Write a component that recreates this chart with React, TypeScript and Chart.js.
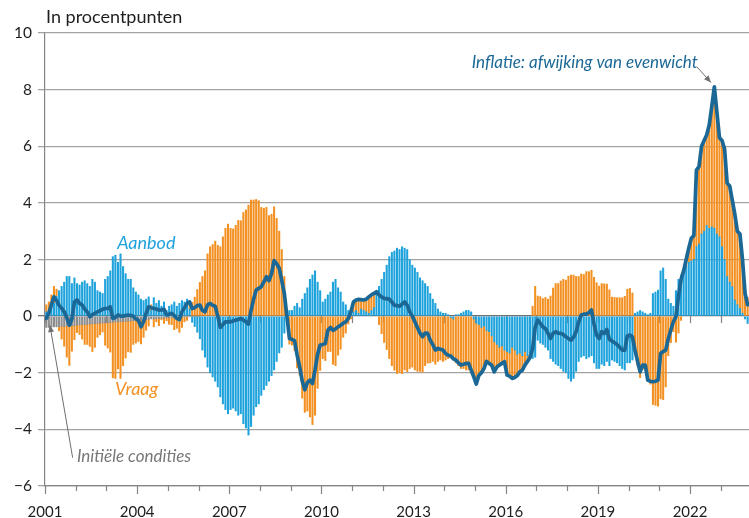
import React, { useEffect, useRef } from 'react';
import { Chart, registerables } from 'chart.js';

Chart.register(...registerables);

// ---- Data (monthly, January 2001 onwards) ----
const startYear = 2001;
const labeledYears = [2001, 2004, 2007, 2010, 2013, 2016, 2019, 2022];
const yTickValues = [-6, -4, -2, 0, 2, 4, 6, 8, 10];

// Inflatie: afwijking van evenwicht (line)
const inflatie = [
  -0.08, 0.1, 0.4, 0.68, 0.55, 0.38, 0.28, 0.15, -0.05, -0.32, -0.1, 0.5, // 2001
  0.57, 0.45, 0.39, 0.25, 0.15, -0.02, 0.05, 0.1, 0.15, 0.19, 0.24, 0.27, // 2002
  0.27, 0.33, -0.08, -0.05, 0.04, 0.0, 0.0, 0.02, 0.04, 0.02, 0.0, -0.1, // 2003
  -0.15, -0.38, -0.2, 0.1, 0.33, 0.3, 0.27, 0.25, 0.21, 0.22, 0.24, 0.04, // 2004
  0.06, 0.1, 0.02, -0.08, -0.12, 0.15, 0.3, 0.45, 0.5, 0.27, 0.3, 0.37, // 2005
  0.39, 0.2, 0.15, 0.4, 0.45, 0.38, 0.35, 0.0, -0.4, -0.3, -0.2, -0.2, // 2006
  -0.2, -0.17, -0.14, -0.12, -0.08, -0.14, -0.2, -0.28, 0.2, 0.6, 0.92, 0.98, // 2007
  1.04, 1.21, 1.39, 1.25, 1.5, 1.96, 1.85, 1.7, 1.25, 0.8, 0.0, -0.79, // 2008
  -0.82, -0.87, -1.38, -1.79, -2.3, -2.6, -2.35, -2.26, -2.38, -1.9, -1.35, -1.02, // 2009
  -1.0, -0.97, -0.5, -0.4, -0.5, -0.45, -0.38, -0.32, -0.25, -0.2, -0.08, 0.15, // 2010
  0.5, 0.57, 0.59, 0.58, 0.57, 0.6, 0.68, 0.75, 0.8, 0.86, 0.75, 0.68, // 2011
  0.62, 0.62, 0.6, 0.5, 0.39, 0.37, 0.35, 0.42, 0.5, 0.39, 0.15, 0.0, // 2012
  -0.2, -0.4, -0.6, -0.73, -0.6, -0.61, -0.85, -1.0, -1.2, -1.14, -1.17, -1.2, // 2013
  -1.32, -1.38, -1.41, -1.5, -1.55, -1.65, -1.73, -1.7, -1.67, -1.67, -1.91, -2.14, // 2014
  -2.4, -2.1, -2.0, -1.85, -1.6, -1.67, -1.73, -1.97, -1.8, -1.73, -1.67, -1.61, // 2015
  -2.08, -2.12, -2.2, -2.17, -2.1, -1.97, -1.91, -1.73, -1.6, -1.45, -1.15, -0.4, // 2016
  -0.14, -0.26, -0.38, -0.44, -0.6, -0.79, -0.61, -0.55, -0.6, -0.61, -0.65, -0.73, // 2017
  -0.79, -0.85, -0.75, -0.55, -0.2, 0.04, 0.07, 0.07, 0.12, 0.22, -0.28, -0.67, // 2018
  -0.79, -0.55, -0.61, -0.47, -0.82, -0.88, -0.94, -1.0, -1.1, -1.2, -1.2, -0.7, // 2019
  -0.67, -0.73, -1.2, -1.6, -1.97, -1.73, -1.73, -2.26, -2.3, -2.32, -2.3, -2.26, // 2020
  -1.32, -1.25, -1.2, -0.8, -0.49, -0.2, -0.02, 0.7, 1.3, 1.6, 2.0, 2.4, // 2021
  2.75, 2.85, 5.16, 5.28, 6.0, 6.2, 6.4, 6.75, 7.4, 8.1, 7.2, 6.3, // 2022
  6.2, 5.9, 4.7, 4.6, 4.1, 3.6, 3.0, 2.9, 2.0, 0.8, 0.4, // 2023
];

// Aanbod (supply shocks)
const aanbod = [
  0.15, 0.2, 0.3, 0.45, 0.7, 0.9, 1.05, 1.2, 1.4, 1.4, 1.15, 1.35, // 2001
  1.15, 1.1, 1.2, 1.25, 1.15, 1.05, 1.3, 1.2, 0.9, 0.85, 0.8, 1.3, // 2002
  1.4, 1.6, 2.1, 2.15, 1.9, 2.2, 1.75, 1.5, 1.3, 1.3, 1.0, 0.85, // 2003
  0.75, 0.6, 0.55, 0.6, 0.68, 0.2, 0.65, 0.45, 0.55, 0.35, 0.5, 0.2, // 2004
  0.35, 0.4, 0.5, 0.35, 0.45, 0.55, 0.5, 0.6, 0.25, -0.2, -0.35, -0.55, // 2005
  -0.8, -1.2, -1.45, -1.8, -2.0, -2.15, -2.3, -2.5, -2.85, -3.1, -3.3, -3.45, // 2006
  -3.3, -3.25, -3.35, -3.5, -3.45, -3.8, -3.95, -4.2, -3.9, -3.5, -3.2, -3.1, // 2007
  -2.8, -2.6, -2.45, -2.3, -2.1, -1.9, -1.6, -1.3, -1.1, -0.6, -0.1, 0.2, // 2008
  0.2, 0.35, 0.45, 0.3, 0.6, 0.8, 1.0, 1.3, 1.45, 1.6, 1.2, 0.9, // 2009
  0.5, 0.6, 0.75, 0.85, 1.2, 1.3, 1.0, 0.85, 0.5, 0.4, 0.2, 0.25, // 2010
  0.15, 0.2, 0.1, 0.25, 0.2, 0.15, 0.1, 0.2, 0.3, 0.8, 1.05, 1.3, // 2011
  1.55, 1.8, 2.1, 2.25, 2.3, 2.4, 2.35, 2.45, 2.4, 2.35, 2.0, 1.8, // 2012
  1.7, 1.55, 1.35, 1.25, 1.15, 1.05, 0.8, 0.6, 0.45, 0.25, 0.15, 0.1, // 2013
  0.1, 0.05, -0.05, -0.1, 0.05, 0.05, 0.1, 0.15, 0.2, 0.2, 0.15, -0.1, // 2014
  -0.25, -0.3, -0.4, -0.35, -0.5, -0.55, -0.7, -0.9, -1.0, -1.1, -1.05, -1.2, // 2015
  -1.25, -1.3, -1.1, -1.2, -1.35, -1.3, -1.4, -1.25, -1.4, -1.3, -1.5, -1.45, // 2016
  -0.85, -0.95, -1.0, -1.1, -1.2, -1.5, -1.6, -1.7, -1.75, -1.85, -1.95, -2.0, // 2017
  -2.2, -2.3, -2.2, -1.95, -1.6, -1.45, -1.4, -1.5, -1.45, -1.4, -1.65, -1.85, // 2018
  -1.85, -1.7, -1.75, -1.6, -1.75, -1.55, -1.6, -1.65, -1.75, -1.85, -1.9, -1.65, // 2019
  -1.65, -1.55, 0.1, 0.15, 0.2, 0.15, 0.1, 0.05, 0.1, 0.8, 0.85, 0.92, // 2020
  1.6, 1.7, 1.3, 0.6, 0.45, 0.35, 0.9, 1.3, 1.45, 1.6, 1.75, 1.9, // 2021
  1.95, 2.0, 2.45, 2.55, 2.9, 3.0, 3.2, 3.1, 3.15, 3.1, 2.9, 2.8, // 2022
  2.45, 2.0, 1.4, 1.2, 1.04, 0.57, 0.4, 0.27, 0.1, -0.1, -0.26, // 2023
];

// Vraag (demand shocks)
const vraag = [
  0.25, 0.3, 0.45, 0.6, 0.25, -0.15, -0.45, -0.7, -1.1, -1.4, -0.9, -0.5, // 2001
  -0.26, -0.34, -0.51, -0.7, -0.71, -0.79, -0.98, -0.83, -0.49, -0.41, -0.32, -0.79, // 2002
  -0.9, -1.05, -1.96, -1.99, -1.66, -2.0, -1.56, -1.3, -1.08, -1.11, -0.84, -0.79, // 2003
  -0.75, -0.84, -0.62, -0.38, -0.24, 0.2, -0.28, -0.11, -0.26, -0.05, -0.19, -0.1, // 2004
  -0.23, -0.25, -0.43, -0.39, -0.53, -0.37, -0.17, -0.12, 0.27, 0.49, 0.67, 0.94, // 2005
  1.19, 1.4, 1.6, 2.2, 2.45, 2.53, 2.65, 2.5, 2.45, 2.8, 3.1, 3.25, // 2006
  3.1, 3.08, 3.21, 3.38, 3.37, 3.66, 3.75, 3.92, 4.1, 4.1, 4.12, 4.08, // 2007
  3.84, 3.81, 3.84, 3.55, 3.6, 3.86, 3.45, 3.0, 2.35, 1.4, 0.1, -0.99, // 2008
  -1.02, -1.22, -1.83, -2.09, -2.9, -3.4, -3.35, -3.56, -3.83, -3.5, -2.55, -1.92, // 2009
  -1.5, -1.57, -1.25, -1.25, -1.7, -1.75, -1.38, -1.17, -0.75, -0.6, -0.28, -0.1, // 2010
  0.35, 0.37, 0.49, 0.33, 0.37, 0.45, 0.58, 0.55, 0.5, 0.06, -0.3, -0.62, // 2011
  -0.93, -1.18, -1.5, -1.75, -1.91, -2.03, -2.0, -2.03, -1.9, -1.96, -1.85, -1.8, // 2012
  -1.9, -1.95, -1.95, -1.98, -1.75, -1.66, -1.65, -1.6, -1.7, -1.6, -1.55, -1.6, // 2013
  -1.55, -1.5, -1.4, -1.45, -1.65, -1.75, -1.85, -1.85, -1.9, -1.9, -2.0, -2.05, // 2014
  -2.15, -1.8, -1.6, -1.5, -1.1, -1.12, -1.03, -1.07, -0.8, -0.63, -0.62, -0.41, // 2015
  -0.83, -0.82, -1.1, -0.97, -0.75, -0.67, -0.51, -0.48, -0.2, -0.15, 0.35, 1.05, // 2016
  0.71, 0.69, 0.62, 0.66, 0.6, 0.71, 0.99, 1.15, 1.15, 1.24, 1.3, 1.27, // 2017
  1.41, 1.45, 1.45, 1.4, 1.4, 1.49, 1.47, 1.57, 1.57, 1.62, 1.37, 1.18, // 2018
  1.06, 1.15, 1.14, 1.13, 0.93, 0.67, 0.66, 0.65, 0.65, 0.65, 0.7, 0.95, // 2019
  0.98, 0.82, -1.3, -1.75, -2.17, -1.88, -1.83, -2.31, -2.4, -3.12, -3.15, -3.18, // 2020
  -2.92, -2.95, -2.5, -1.4, -0.94, -0.55, -0.92, -0.6, -0.15, 0.0, 0.25, 0.5, // 2021
  0.8, 0.85, 2.71, 2.73, 3.1, 3.2, 3.2, 3.65, 4.25, 5.0, 4.3, 3.5, // 2022
  3.75, 3.9, 3.3, 3.4, 3.06, 3.03, 2.6, 2.63, 1.9, 0.9, 0.66, // 2023
];

// Initiële condities
const initieel = [
  -0.4, -0.4, -0.39, -0.38, -0.38, -0.37, -0.36, -0.36, -0.35, -0.34, -0.34, -0.33, // 2001
  -0.32, -0.31, -0.3, -0.3, -0.29, -0.28, -0.27, -0.27, -0.26, -0.25, -0.24, -0.24, // 2002
  -0.23, -0.22, -0.22, -0.21, -0.2, -0.2, -0.19, -0.18, -0.18, -0.17, -0.16, -0.16, // 2003
  -0.15, -0.14, -0.13, -0.12, -0.11, -0.1, -0.1, -0.09, -0.08, -0.08, -0.07, -0.06, // 2004
  -0.06, -0.05, -0.05, -0.04, -0.04, -0.03, -0.03, -0.03, -0.02, -0.02, -0.02, -0.02, // 2005
];

const COLORS = {
  aanbod: '#1ea2dc',
  vraag: '#f39022',
  init: '#8c8c8c',
  line: '#1b6896',
  grid: '#a3a3a3',
  zero: '#707070',
  axis: '#858585',
  text: '#1e1e1e',
};

const FONT = 'Lato, "Open Sans", sans-serif';

function drawArrow(ctx: CanvasRenderingContext2D, x1: number, y1: number, x2: number, y2: number, color: string) {
  ctx.save();
  ctx.strokeStyle = color;
  ctx.fillStyle = color;
  ctx.lineWidth = 1;
  ctx.beginPath();
  ctx.moveTo(x1, y1);
  ctx.lineTo(x2, y2);
  ctx.stroke();
  const ang = Math.atan2(y2 - y1, x2 - x1);
  const len = 7;
  const w = 3;
  ctx.beginPath();
  ctx.moveTo(x2, y2);
  ctx.lineTo(x2 - len * Math.cos(ang) + w * Math.sin(ang), y2 - len * Math.sin(ang) - w * Math.cos(ang));
  ctx.lineTo(x2 - len * Math.cos(ang) - w * Math.sin(ang), y2 - len * Math.sin(ang) + w * Math.cos(ang));
  ctx.closePath();
  ctx.fill();
  ctx.restore();
}

const yearTicksPlugin = {
  id: 'yearTicks',
  beforeDatasetsDraw(chart: any) {
    const { ctx, scales } = chart;
    const xs = scales.x;
    const y0 = scales.y.getPixelForValue(0);
    const yb = xs.top;
    ctx.save();
    ctx.strokeStyle = COLORS.axis;
    ctx.lineWidth = 1.2;
    for (let yr = startYear; yr <= 2023; yr++) {
      const x = Math.round(xs.getPixelForValue(yr)) + 0.5;
      // ticks on the zero line
      ctx.beginPath();
      ctx.moveTo(x, y0);
      ctx.lineTo(x, y0 + 7);
      ctx.stroke();
      // ticks below the x axis
      const len = labeledYears.includes(yr) ? 8 : 5;
      ctx.beginPath();
      ctx.moveTo(x, yb);
      ctx.lineTo(x, yb + len);
      ctx.stroke();
    }
    ctx.restore();
  },
};

const annotationPlugin = {
  id: 'annotationsText',
  afterDraw(chart: any) {
    const { ctx, scales, chartArea } = chart;
    const xs = scales.x;
    const ys = scales.y;
    const px = (v: number) => xs.getPixelForValue(v);
    const py = (v: number) => ys.getPixelForValue(v);
    ctx.save();
    ctx.textBaseline = 'middle';
    ctx.textAlign = 'left';

    ctx.fillStyle = COLORS.text;
    ctx.font = `18px ${FONT}`;
    ctx.fillText('In procentpunten', chartArea.left + 1, 17);

    ctx.font = `italic 18px ${FONT}`;
    ctx.fillStyle = COLORS.aanbod;
    ctx.fillText('Aanbod', px(2003.35), py(2.58));

    ctx.fillStyle = COLORS.vraag;
    ctx.fillText('Vraag', px(2003.28), py(-2.58));

    ctx.font = `italic 17px ${FONT}`;
    ctx.fillStyle = '#777777';
    ctx.fillText('Initiële condities', px(2002.04), py(-4.95));

    ctx.font = `italic 17px ${FONT}`;
    ctx.fillStyle = COLORS.line;
    ctx.fillText('Inflatie: afwijking van evenwicht', px(2014.89), py(8.97));

    drawArrow(ctx, px(2001.9), py(-5.0), px(2001.16), py(-0.32), '#6f6f6f');
    drawArrow(ctx, px(2022.23), py(8.8), px(2022.68), py(8.25), '#6f6f6f');
    ctx.restore();
  },
};

export default function App() {
  const canvasRef = useRef<HTMLCanvasElement | null>(null);

  useEffect(() => {
    if (!canvasRef.current) return;
    const positions = inflatie.map((_, i) => startYear + (i + 0.5) / 12);
    const barCommon = {
      type: 'bar' as const,
      stack: 'shocks',
      order: 1,
      barThickness: 1.4,
      borderWidth: 0,
    };
    const chart = new Chart(canvasRef.current, {
      type: 'bar',
      data: {
        labels: positions,
        datasets: [
          { ...barCommon, label: 'Initiële condities', data: initieel, backgroundColor: COLORS.init },
          { ...barCommon, label: 'Aanbod', data: aanbod, backgroundColor: COLORS.aanbod },
          { ...barCommon, label: 'Vraag', data: vraag, backgroundColor: COLORS.vraag },
          {
            type: 'line' as const,
            label: 'Inflatie: afwijking van evenwicht',
            data: inflatie,
            borderColor: COLORS.line,
            borderWidth: 3.7,
            pointRadius: 0,
            tension: 0,
            order: 0,
            borderJoinStyle: 'round' as const,
            borderCapStyle: 'round' as const,
          },
        ],
      } as any,
      options: {
        responsive: false,
        animation: false,
        devicePixelRatio: 1,
        layout: { padding: { top: 33, left: 0, right: 0, bottom: 0 } },
        plugins: {
          legend: { display: false },
          tooltip: { enabled: false },
          title: { display: false },
        },
        scales: {
          x: {
            type: 'linear',
            min: 2001,
            max: 2023.92,
            offset: false,
            afterFit: (s: any) => { s.height = 32; },
            grid: { drawOnChartArea: false, drawTicks: false, offset: false, color: COLORS.axis, lineWidth: 1.2 },
            border: { color: COLORS.axis, width: 1.2 },
            ticks: {
              stepSize: 1,
              autoSkip: false,
              includeBounds: false,
              maxRotation: 0,
              padding: 17,
              color: COLORS.text,
              font: { family: FONT, size: 15 },
              callback: (v: any) => {
                const yr = Math.round(Number(v));
                return labeledYears.includes(yr) ? String(yr) : '';
              },
            },
          },
          y: {
            min: -6,
            max: 10,
            afterFit: (s: any) => { s.width = 45; },
            afterBuildTicks: (s: any) => { s.ticks = yTickValues.map((v) => ({ value: v })); },
            grid: {
              color: (c: any) => (c.tick && c.tick.value === 0 ? COLORS.zero : COLORS.grid),
              lineWidth: 1.3,
              tickLength: 7,
            },
            border: { color: COLORS.axis, width: 1.2 },
            ticks: {
              padding: 6,
              color: COLORS.text,
              font: { family: FONT, size: 15.5 },
              callback: (v: any) => String(v).replace('-', '\u2212'),
            },
          },
        },
      } as any,
      plugins: [yearTicksPlugin, annotationPlugin],
    });
    return () => chart.destroy();
  }, []);

  return (
    <div style={{ position: 'absolute', left: 0, top: 0, width: 749, height: 518, background: '#fff' }}>
      <canvas ref={canvasRef} width={749} height={518} style={{ display: 'block' }} />
    </div>
  );
}
